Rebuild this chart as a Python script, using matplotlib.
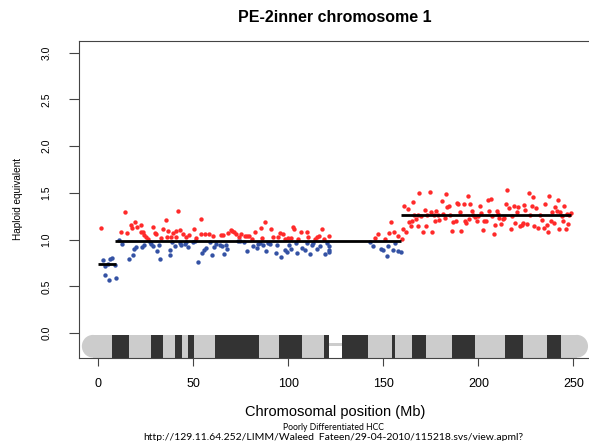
import matplotlib
matplotlib.use("Agg")
import matplotlib.pyplot as plt
from matplotlib.patches import Rectangle, Ellipse

# ---------------------------------------------------------------------------
# data (Mb / haploid equivalent)
# ---------------------------------------------------------------------------
red_pos = [1.6, 13.9, 11.8, 15.3, 17.0, 17.7, 19.1, 20.5, 22.6, 22.3, 23.5, 24.0, 25.3, 26.2,
           28.9, 29.7, 30.5, 32.8, 34.0, 35.5, 36.7, 36.0, 38.4, 39.3, 40.7, 41.9, 42.8, 41.1,
           44.6, 46.3, 47.7, 50.4, 51.2, 53.9, 54.2, 56.0, 58.1, 60.4, 64.7, 65.6, 68.3, 69.7,
           70.5, 71.2, 72.5, 73.9, 75.1, 77.0,
           78.1, 79.3, 80.7, 82.5, 85.6, 87.7, 86.3, 90.9, 92.1, 94.7, 95.6, 97.4, 98.3, 100.0,
           101.2, 102.3, 103.2, 105.3, 106.7, 109.7, 110.5, 114.0, 114.9, 116.1, 117.6, 118.8,
           121.4, 145.6, 147.0, 150.9, 153.2, 154.0, 155.6, 157.6, 159.7,
           160.1, 161.8, 161.1, 162.7, 163.6, 164.4, 165.3, 165.5, 166.2, 167.1, 168.0, 168.0,
           169.0, 169.9, 170.6, 172.0, 172.3, 173.2, 174.6, 175.1, 175.8, 176.4, 177.3, 177.8,
           178.7, 179.4, 180.8, 181.6, 182.2, 182.9, 183.7, 184.6, 185.1, 186.0, 186.9, 188.1,
           188.7, 189.5, 190.4, 190.9, 192.2, 192.7, 193.6, 194.4, 195.1, 195.7, 196.6, 197.4,
           198.3, 199.2, 199.7, 200.9, 201.5, 202.2, 202.7, 203.9, 204.8, 205.7, 206.7, 207.1,
           208.3, 208.8, 209.7, 210.2, 211.1, 212.0, 212.9, 213.7, 214.6, 215.1, 216.2, 217.1,
           217.6, 218.5, 219.4, 220.2, 221.1, 222.0, 222.9, 223.4, 224.1, 224.6, 225.7, 226.4,
           227.3, 228.1, 228.8, 229.5, 230.2, 231.3, 232.5, 233.4, 234.4, 235.1, 236.0, 236.9,
           237.3, 238.1, 238.7, 239.7, 240.4, 241.3, 241.8, 242.2, 243.0, 243.9, 244.4, 245.3,
           246.0, 246.9, 247.1, 247.8, 248.7]
red_val = [1.125, 1.296, 1.079, 1.071, 1.161, 1.125, 1.189, 1.132, 1.154, 1.082, 1.082, 1.046,
           1.029, 1.007, 1.132, 1.071, 1.064, 1.018, 1.114, 1.214, 1.089, 1.025, 1.029, 1.071,
           1.096, 1.304, 1.100, 1.025, 1.061, 1.025, 1.046, 1.114, 1.018, 1.061, 1.225, 1.057,
           1.061, 1.036, 1.046, 1.054, 1.071, 1.107, 1.096, 1.079, 1.057, 1.029, 1.061, 1.043,
           1.043, 1.043, 1.007, 1.079, 1.125, 1.189, 1.018, 1.118, 1.029, 1.029, 1.068, 1.064,
           1.011, 1.018, 1.018, 1.139, 1.118, 1.011, 1.079, 1.079, 1.029, 1.007, 1.029, 1.036,
           1.114, 1.007, 1.036, 1.021, 1.061, 1.011, 1.068, 1.189, 1.079, 1.036, 1.007,
           1.114, 1.082, 1.357, 1.329, 1.186, 1.150, 1.196, 1.400, 1.268, 1.221, 1.268, 1.143,
           1.500, 1.250, 1.079, 1.321, 1.143, 1.261, 1.507, 1.293, 1.082, 1.261, 1.196, 1.311,
           1.268, 1.214, 1.411, 1.275, 1.232, 1.493, 1.346, 1.364, 1.268, 1.096, 1.186, 1.196,
           1.393, 1.382, 1.293, 1.089, 1.382, 1.196, 1.175, 1.471, 1.221, 1.382, 1.311, 1.268,
           1.239, 1.204, 1.250, 1.357, 1.286, 1.107, 1.204, 1.196, 1.429, 1.311, 1.436, 1.257,
           1.061, 1.161, 1.311, 1.275, 1.232, 1.171, 1.221, 1.232, 1.382, 1.536, 1.339, 1.118,
           1.250, 1.364, 1.179, 1.293, 1.354, 1.143, 1.161, 1.175, 1.375, 1.321, 1.168, 1.500,
           1.268, 1.357, 1.457, 1.150, 1.339, 1.125, 1.268, 1.214, 1.125, 1.382, 1.161, 1.082,
           1.471, 1.204, 1.296, 1.179, 1.346, 1.304, 1.425, 1.114, 1.296, 1.250, 1.204, 1.361,
           1.118, 1.275, 1.171, 1.261, 1.286]

blue_pos = [2.5, 3.4, 4.8, 6.0, 7.2, 8.6, 3.4, 5.5, 9.5, 10.7, 12.5, 16.0, 18.3, 18.6, 20.0,
            23.0, 24.0, 27.0, 27.9, 28.8, 30.9, 31.8, 32.3, 37.6, 37.9, 39.0, 40.5, 42.8, 43.7,
            45.5, 46.3, 47.2, 49.7, 50.7, 52.5, 54.7, 55.5, 56.9, 58.6, 59.8, 60.7, 62.1, 63.9,
            65.3, 66.2, 67.0, 67.9, 73.5, 74.6, 76.7,
            78.1, 81.6, 83.3, 84.2, 85.1, 86.8, 88.1, 89.1, 90.4, 93.3, 93.9, 96.1, 98.3, 99.1,
            100.5, 101.4, 103.9, 104.7, 107.4, 108.8, 109.7, 111.4, 112.3, 113.2, 114.9, 116.7,
            119.3, 120.2, 121.4, 121.4, 121.4, 143.0, 144.7, 148.6, 150.0, 151.8, 152.6, 154.9,
            156.1, 157.9, 159.3]
blue_val = [0.779, 0.714, 0.739, 0.793, 0.800, 0.725, 0.618, 0.564, 0.586, 0.993, 0.957, 0.796,
            0.836, 0.904, 0.918, 0.918, 0.946, 0.971, 0.954, 0.929, 0.882, 0.943, 0.793, 0.832,
            0.893, 0.975, 0.929, 0.964, 0.939, 0.954, 0.971, 0.921, 0.979, 0.982, 0.761, 0.857,
            0.886, 0.911, 0.971, 0.832, 0.918, 0.954, 0.946, 0.929, 0.846, 0.939, 0.900, 0.982,
            0.989, 0.975,
            0.875, 0.936, 0.911, 0.954, 0.964, 0.946, 0.882, 0.964, 0.957, 0.857, 0.939, 0.814,
            0.893, 0.864, 0.946, 0.900, 0.964, 0.857, 0.911, 0.886, 0.964, 0.846, 0.943, 0.964,
            0.904, 0.929, 0.850, 0.964, 0.929, 0.893, 0.871, 0.975, 0.929, 0.900, 0.886, 0.821,
            0.929, 0.886, 0.964, 0.875, 0.868]

# segment means
seg_start = [0.0, 9.0, 159.5]
seg_end = [9.5, 159.5, 248.8]
seg_value = [0.743, 0.99, 1.26]

# chromosome 1 ideogram: dark bands and centromere gap (Mb)
dark_bands = [(7.0, 16.1), (27.9, 34.0), (40.2, 44.0), (47.0, 50.5), (61.4, 84.7),
              (94.9, 107.2), (118.5, 121.5), (128.2, 141.7), (154.4, 156.2), (165.0, 172.4),
              (185.9, 198.3), (214.1, 223.7), (236.2, 243.4)]
arm_p = (-2.9, 121.5)
arm_q = (128.2, 251.9)

# ---------------------------------------------------------------------------
plt.rcParams['font.family'] = ['Liberation Sans', 'DejaVu Sans']

W, H = 589, 441
fig = plt.figure(figsize=(W / 100, H / 100), dpi=100)
ax = fig.add_axes([79 / W, 82.7 / H, 513.2 / W, 317.3 / H])

red = '#ff2a2a'
blue = '#3452a4'
ax.scatter(blue_pos, blue_val, s=10, color=blue, linewidths=0, zorder=3)
ax.scatter(red_pos, red_val, s=10, color=red, linewidths=0, zorder=3)
for s, e, v in zip(seg_start, seg_end, seg_value):
    ax.plot([s, e], [v, v], color='black', lw=2.0, zorder=4, solid_capstyle='butt')

# ideogram
y0, y1 = -0.26, -0.018
yc = (y0 + y1) / 2
gray = '#cccccc'
dark = '#333333'
cap_w = 5.8
for a, b in (arm_p, arm_q):
    ax.add_patch(Rectangle((a, y0), b - a, y1 - y0, facecolor=gray, edgecolor='none', zorder=1))
ax.add_patch(Ellipse((arm_p[0], yc), 2 * cap_w, y1 - y0, facecolor=gray, edgecolor='none', zorder=1))
ax.add_patch(Ellipse((arm_q[1], yc), 2 * cap_w, y1 - y0, facecolor=gray, edgecolor='none', zorder=1))
ax.add_patch(Rectangle((arm_p[1], yc + 0.002), arm_q[0] - arm_p[1], 0.034,
                       facecolor=gray, edgecolor='none', zorder=1))
for a, b in dark_bands:
    ax.add_patch(Rectangle((a, y0), b - a, y1 - y0, facecolor=dark, edgecolor='none', zorder=2))

ax.set_xlim(-10.2, 259.9)
ax.set_ylim(-0.268, 3.125)

ax.set_xticks([0, 50, 100, 150, 200, 250])
ax.set_yticks([0.0, 0.5, 1.0, 1.5, 2.0, 2.5, 3.0])
ax.set_yticklabels(['0.0', '0.5', '1.0', '1.5', '2.0', '2.5', '3.0'], rotation=90, va='center')
ax.tick_params(axis='x', length=6, width=0.8, color='#444444', pad=8, labelsize=9)
ax.tick_params(axis='y', length=7, width=0.8, color='#444444', pad=13, labelsize=7.5)
for sp in ax.spines.values():
    sp.set_color('#444444')
    sp.set_linewidth(0.8)

ax.set_xlabel('Chromosomal position (Mb)', fontsize=10.5, labelpad=11)
fig.text(18 / W, 1 - 199 / H, 'Haploid equivalent', rotation=90, ha='center', va='center', fontsize=7.2)
fig.text(335 / W, 1 - 17 / H, 'PE-2inner chromosome 1', ha='center', va='center',
         fontsize=11.5, fontweight='bold')
fig.text(333 / W, 1 - 428 / H, 'Poorly Differentiated HCC', ha='center', va='center',
         fontsize=6.2, family=['Lato', 'DejaVu Sans'])
fig.text(333 / W, 1 - 438 / H, 'http://129.11.64.252/LIMM/Waleed_Fateen/29-04-2010/115218.svs/view.apml?',
         ha='center', va='center', fontsize=7.5, family=['Lato', 'DejaVu Sans'])

fig.savefig('out.png', dpi=100)
